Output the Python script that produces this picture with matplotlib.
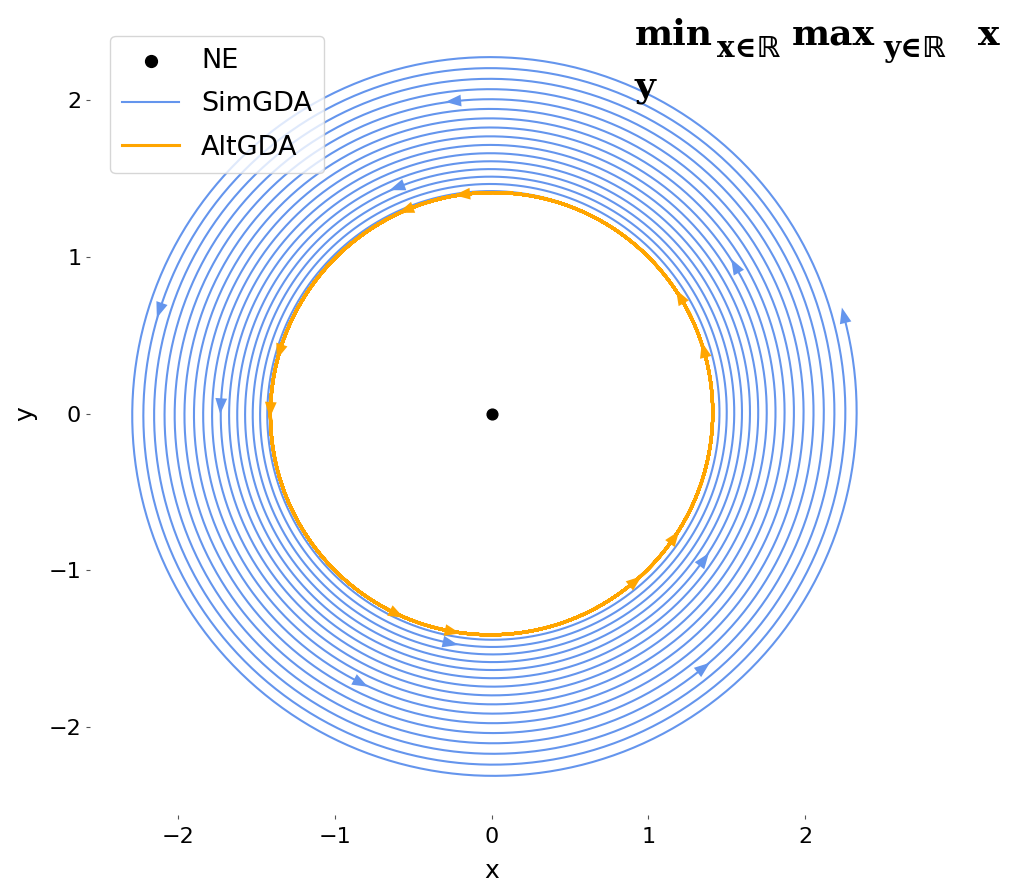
import numpy as np
import matplotlib
matplotlib.use("Agg")
import matplotlib.pyplot as plt

# ---- data / parameters of the plotted trajectories ----
start_point = [1.0, 1.0]      # initial (x, y)
step_size = 0.01              # learning rate eta
n_steps = 10000               # number of iterations
arrow_every = 1000            # arrow marker spacing (iterations)
ne_point = [0.0, 0.0]         # Nash equilibrium
series_names = ["NE", "SimGDA", "AltGDA"]
tick_values = [-2, -1, 0, 1, 2]
title_pieces = ["min", "x∈ℝ", "max", "y∈ℝ", "x", "y"]


def sim_gda(p0, eta, T):
    pts = np.empty((T + 1, 2))
    x, y = p0
    pts[0] = (x, y)
    for t in range(T):
        x, y = x - eta * y, y + eta * x
        pts[t + 1] = (x, y)
    return pts


def alt_gda(p0, eta, T):
    pts = np.empty((T + 1, 2))
    x, y = p0
    pts[0] = (x, y)
    for t in range(T):
        x = x - eta * y
        y = y + eta * x
        pts[t + 1] = (x, y)
    return pts


sim = sim_gda(start_point, step_size, n_steps)
alt = alt_gda(start_point, step_size, n_steps)

blue = "#6495ED"
orange = "#FFA500"

W, H = 1009, 882
fig = plt.figure(figsize=(W / 100, H / 100), dpi=100)
ax = fig.add_axes([0.0892, 0.076, 0.796, 0.910])

ax.plot(sim[:, 0], sim[:, 1], color=blue, lw=1.5, label=series_names[1], zorder=2)
ax.plot(alt[:, 0], alt[:, 1], color=orange, lw=2.2, label=series_names[2], zorder=3)
ax.scatter([ne_point[0]], [ne_point[1]], color="black", s=60, zorder=5,
           label=series_names[0])


def add_arrows(pts, color, z):
    for i in range(arrow_every, len(pts), arrow_every):
        p = pts[i]
        d = pts[i] - pts[i - 1]
        d = d / np.linalg.norm(d)
        ax.arrow(p[0], p[1], d[0] * 1e-4, d[1] * 1e-4, head_width=0.075,
                 head_length=0.1, color=color, lw=0, zorder=z,
                 length_includes_head=False)


add_arrows(sim, blue, 4)
add_arrows(alt, orange, 4)

ax.set_aspect("equal")
ax.set_xlim(-2.56, 2.56)
ax.set_ylim(-2.56, 2.56)
ax.set_xticks(tick_values)
ax.set_yticks(tick_values)
for s in ax.spines.values():
    s.set_visible(False)
ax.tick_params(axis="both", labelsize=16, length=3, width=0.8, color="#555555")
ax.tick_params(axis="x", pad=6)
ax.set_xlabel("x", fontsize=18, labelpad=8)
ax.set_ylabel("y", fontsize=18, labelpad=8)

h, l = ax.get_legend_handles_labels()
order = [2, 0, 1]
ax.legend([h[k] for k in order], [l[k] for k in order], loc="upper left",
          bbox_to_anchor=(0.008, 0.988), fontsize=19.5, handlelength=2.1,
          borderpad=0.45, labelspacing=0.65, markerscale=1.1)

# ---- title, placed piece by piece (left x, baseline y, target width in px) ----
layout = [(635, 45, 78, True), (717, 57, 63, False), (792, 45, 86, True),
          (883, 57, 62, False), (978, 45, 22, True), (635, 97, 30, True)]
fam = ["DejaVu Serif", "DejaVu Sans"]
renderer = fig.canvas.get_renderer()


def fit_size(txt, target):
    t = fig.text(0, 0, txt, fontsize=20, family=fam, weight="bold")
    w = t.get_window_extent(renderer).width
    t.remove()
    return 20 * target / w


main_size = fit_size(title_pieces[0], layout[0][2])
sub_size = fit_size(title_pieces[1], layout[1][2])
for txt, (px, py, _, is_main) in zip(title_pieces, layout):
    fig.text(px / W, 1 - py / H, txt, fontsize=main_size if is_main else sub_size,
             family=fam, weight="bold", ha="left", va="baseline")

fig.savefig("out.png", dpi=100)
